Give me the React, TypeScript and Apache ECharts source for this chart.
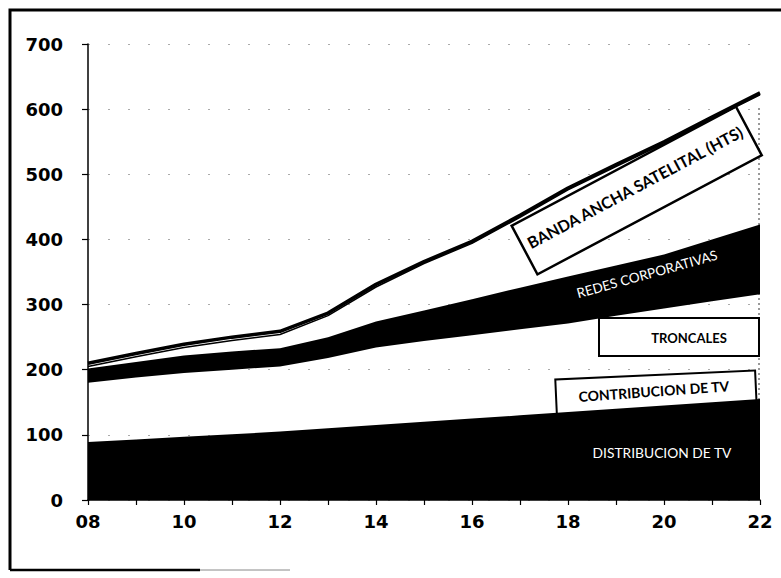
import React, { useEffect, useRef } from "react";
import * as echarts from "echarts";

const years = ["08", "09", "10", "11", "12", "13", "14", "15", "16", "17", "18", "19", "20", "21", "22"];
const distribucionTV = [89, 93, 97, 101, 105, 110, 115, 120, 125, 130, 135, 140, 145, 150, 155];
const contribucionTV = [51, 52, 53, 54, 55, 55, 57, 58, 59, 60, 61, 62, 63, 64, 65];
const troncales = [40, 43, 45, 45, 45, 53, 62, 66, 69, 72, 75, 81, 86, 91, 96];
const redesCorporativas = [22, 24, 27, 28, 28, 32, 40, 47, 55, 64, 72, 77, 83, 95, 107];
const bandaAncha = [3, 8, 12, 17, 21, 33, 53, 72, 86, 108, 133, 152, 170, 185, 199];
const bordeSuperior = [5, 5, 5, 5, 5, 4, 4, 3, 3, 3, 3, 3, 3, 3, 3];

const yMin = 0;
const yMax = 700;
const yStep = 100;

const deg = Math.PI / 180;

export default function App() {
  const ref = useRef<HTMLDivElement>(null);

  useEffect(() => {
    if (!ref.current) return;
    const chart = echarts.init(ref.current, undefined, { renderer: "svg" });

    const mkSeries = (name: string, data: number[], fill: string | null, line?: { width: number }) => ({
      name,
      type: "line",
      stack: "total",
      data,
      symbol: "none",
      smooth: false,
      lineStyle: line ? { color: "#000", width: line.width } : { width: 0, opacity: 0 },
      areaStyle: fill ? { color: fill, opacity: 1 } : { color: "#fff", opacity: 0 },
      z: 2,
    });

    chart.setOption({
      animation: false,
      backgroundColor: "#fff",
      grid: { left: 88, right: 21, top: 44, bottom: 78, containLabel: false },
      xAxis: {
        type: "category",
        data: years,
        boundaryGap: false,
        axisLine: { lineStyle: { color: "#000", width: 1.5 } },
        axisTick: { show: true, interval: 0, length: 5, lineStyle: { color: "#000", width: 1.2 } },
        axisLabel: {
          interval: 1,
          margin: 12,
          color: "#000",
          fontFamily: "DejaVu Sans",
          fontWeight: "bold",
          fontSize: 18,
        },
        splitLine: { show: false },
      },
      yAxis: {
        type: "value",
        min: yMin,
        max: yMax,
        interval: yStep,
        axisLine: { show: true, lineStyle: { color: "#000", width: 1.5 } },
        axisTick: { show: true, length: 6, lineStyle: { color: "#000", width: 1.2 } },
        axisLabel: {
          margin: 25,
          color: "#000",
          fontFamily: "DejaVu Sans",
          fontWeight: "bold",
          fontSize: 18,
        },
        splitLine: { show: true, lineStyle: { color: "#555", width: 1.2, type: [2, 18], opacity: 0.5 } },
      },
      series: [
        mkSeries("DISTRIBUCION DE TV", distribucionTV, "#000"),
        mkSeries("CONTRIBUCION DE TV", contribucionTV, null),
        mkSeries("TRONCALES", troncales, null),
        mkSeries("REDES CORPORATIVAS", redesCorporativas, "#000"),
        mkSeries("BANDA ANCHA SATELITAL (HTS)", bandaAncha, null, { width: 1.5 }),
        mkSeries("", bordeSuperior, null, { width: 3.5 }),
      ],
      graphic: {
        elements: [
          // frame
          { type: "polyline", z: 20, shape: { points: [[781, 10], [10, 10], [10, 570]] }, style: { stroke: "#000", lineWidth: 3, fill: null } },
          { type: "line", z: 20, shape: { x1: 10, y1: 570, x2: 200, y2: 570 }, style: { stroke: "#000", lineWidth: 2.5 } },
          { type: "line", z: 20, shape: { x1: 200, y1: 570, x2: 290, y2: 570 }, style: { stroke: "#888", lineWidth: 1 } },
          // right edge of the white bands (dotted)
          { type: "line", z: 1, shape: { x1: 759, y1: 108, x2: 759, y2: 400 }, style: { stroke: "#333", lineWidth: 1, lineDash: [2, 3] } },
          // Banda ancha box
          {
            type: "group",
            x: 636.7,
            y: 190.5,
            rotation: 28 * deg,
            children: [
              { type: "rect", z: 1, shape: { x: -127, y: -27.5, width: 254, height: 55 }, style: { fill: "#fff", stroke: "#000", lineWidth: 2.5 } },
              { type: "text", z: 10, x: 0, y: -4, style: { text: "BANDA ANCHA SATELITAL (HTS)", fill: "#000", font: "bold 16px Lato", align: "center", verticalAlign: "middle" } },
            ],
          },
          // Troncales box
          { type: "rect", z: 1, shape: { x: 599, y: 318, width: 160, height: 38 }, style: { fill: "#fff", stroke: "#000", lineWidth: 2 } },
          { type: "text", z: 10, x: 689, y: 338, style: { text: "TRONCALES", fill: "#000", font: "bold 13px Lato", align: "center", verticalAlign: "middle" } },
          // Contribucion box
          {
            type: "group",
            x: 656,
            y: 393,
            rotation: 2.6 * deg,
            children: [
              { type: "rect", z: 1, shape: { x: -100, y: -18, width: 200, height: 40 }, style: { fill: "#fff", stroke: "#000", lineWidth: 2 } },
              { type: "text", z: 10, x: -2, y: -2, rotation: 1.5 * deg, style: { text: "CONTRIBUCION DE TV", fill: "#000", font: "bold 14px Lato", align: "center", verticalAlign: "middle" } },
            ],
          },
          // Redes corporativas
          { type: "text", z: 10, x: 647, y: 274, rotation: 15.5 * deg, style: { text: "REDES CORPORATIVAS", fill: "#fff", font: "13.5px Lato", align: "center", verticalAlign: "middle" } },
          // Distribucion
          { type: "text", z: 10, x: 662, y: 452, style: { text: "DISTRIBUCION DE TV", fill: "#fff", font: "13.8px Lato", align: "center", verticalAlign: "middle" } },
        ],
      },
    });

    return () => chart.dispose();
  }, []);

  return <div ref={ref} style={{ position: "absolute", left: 0, top: 0, width: 781, height: 578 }} />;
}
